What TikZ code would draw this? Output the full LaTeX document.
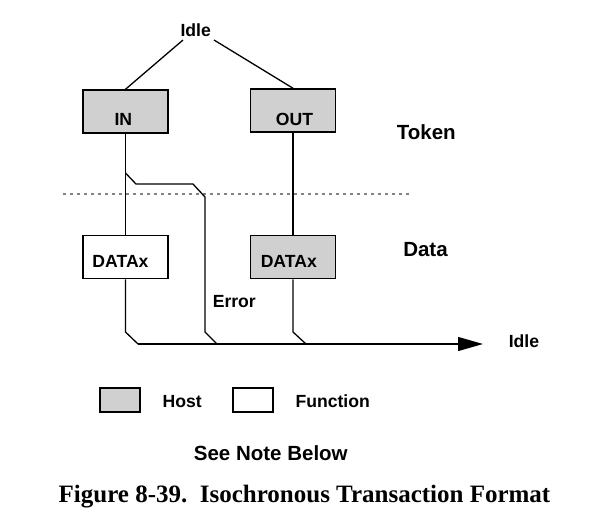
\documentclass[tikz,border=0pt]{standalone}
\usepackage{fontspec}
\setmainfont{Liberation Sans}
\newfontfamily\capfont{Liberation Serif}
\usetikzlibrary{arrows.meta}
\definecolor{hostgray}{RGB}{208,208,208}
\definecolor{dotgray}{RGB}{130,130,130}
\begin{document}
\begin{tikzpicture}[x=1pt,y=-1pt,
  lbl/.style={font=\fontsize{17.6}{20}\selectfont\bfseries, inner sep=0pt, anchor=base},
  biglbl/.style={font=\fontsize{20.5}{24}\selectfont\bfseries, inner sep=0pt, anchor=base},
  pkt/.style={draw, line width=1.5pt, minimum width=85pt, minimum height=43pt, inner sep=0pt},
  hostbox/.style={pkt, fill=hostgray},
  funcbox/.style={pkt, fill=white},
  legbox/.style={draw, line width=1.5pt, minimum width=40pt, minimum height=24pt, inner sep=0pt},
  wire/.style={line width=1.3pt},
]
\useasboundingbox (0,0) rectangle (595,531);

% top idle
\node[lbl] (idletop) at (195.7,36) {Idle};
\coordinate (idleL) at (183,40);
\coordinate (idleR) at (214,40);

% token packets
\node[hostbox] (in) at (125.5,111.5) {};
\node[lbl] (intxt) at (123.3,125.7) {IN};
\node[hostbox] (out) at (293,110.5) {};
\node[lbl] (outtxt) at (294.5,125.7) {OUT};

% data packets
\node[funcbox] (dataL) at (125.5,257) {};
\node[lbl] (dataLtxt) at (120.5,267.3) {DATAx};
\node[hostbox] (dataR) at (293,257) {};
\node[lbl] (dataRtxt) at (288.8,267.3) {DATAx};

% side labels
\node[biglbl] (token) at (426.3,139.3) {Token};
\node[biglbl] (data) at (425.5,256.7) {Data};
\node[lbl] (error) at (234.3,307.3) {Error};
\node[lbl] (idleend) at (524,347.3) {Idle};

% dotted separator
\coordinate (dotA) at (63,194);
\coordinate (dotB) at (410,194);
\draw[dotgray, line width=1.1pt, dash pattern=on 2.5pt off 4.5pt] (dotA) -- (dotB);

% connectors
\draw[wire] (idleL) -- (in.north);
\draw[wire] (idleR) -- (out.north);
\draw[wire] (in.south) -- (dataL.north);
\draw[wire] (out.south) -- (dataR.north);

\coordinate (brA) at (125.5,173);
\coordinate (brB) at (136,184);
\coordinate (brC) at (193,184);
\coordinate (brD) at (205,197);
\coordinate (brE) at (205,332);
\coordinate (brF) at (217,344);
\draw[wire] (brA) -- (brB) -- (brC) -- (brD) -- (brE) -- (brF);

\coordinate (lA) at (125.5,332);
\coordinate (lB) at (138,344);
\draw[wire] (dataL.south) -- (lA) -- (lB);

\coordinate (rA) at (293,332);
\coordinate (rB) at (306,344);
\draw[wire] (dataR.south) -- (rA) -- (rB);

\coordinate (tip) at (483,344);
\draw[wire, -{Triangle[length=25pt,width=14pt]}] (lB) -- (tip);

% legend
\node[legbox, fill=hostgray] (leghost) at (120,400) {};
\node[lbl] (hosttxt) at (182.2,407.7) {Host};
\node[legbox, fill=white] (legfunc) at (253,400) {};
\node[lbl] (functxt) at (332.7,407.7) {Function};

\node[biglbl] (note) at (270.8,460) {See Note Below};

\node[inner sep=0pt, anchor=base, font=\capfont\fontsize{25}{30}\selectfont\bfseries] (caption) at (304.5,502) {Figure 8-39.\ \ Isochronous Transaction Format};
\end{tikzpicture}
\end{document}
